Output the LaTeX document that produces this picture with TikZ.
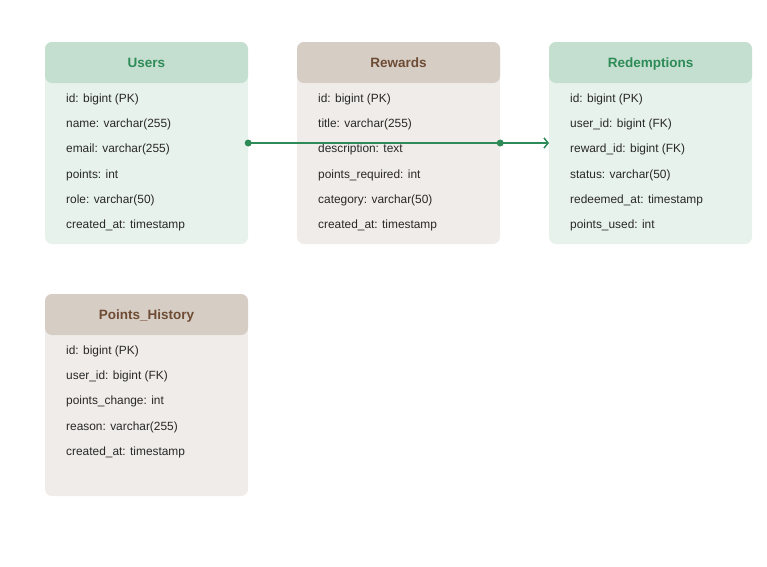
\documentclass[tikz,border=0pt]{standalone}
\usepackage{fontspec}
\setmainfont{Liberation Sans}
\usepackage{tikz}
\usetikzlibrary{arrows.meta, positioning}
\definecolor{grnhead}{RGB}{196,223,208}
\definecolor{grnbody}{RGB}{232,242,236}
\definecolor{grntext}{RGB}{46,139,87}
\definecolor{brnhead}{RGB}{214,205,197}
\definecolor{brnbody}{RGB}{240,236,233}
\definecolor{brntext}{RGB}{110,76,52}
\definecolor{fldtext}{RGB}{40,40,40}

\begin{document}
\begin{tikzpicture}[
  x=1pt, y=1pt,
  tbl/.style={rounded corners=7pt, minimum width=203pt, minimum height=202pt, inner sep=0pt},
  hdr/.style={rounded corners=7pt, minimum width=203pt, minimum height=41pt, inner sep=0pt,
    anchor=north, text height=10pt, text depth=1pt, font=\fontsize{13.5}{15}\selectfont\bfseries},
  fld/.style={anchor=west, inner sep=0pt, text height=8.5pt, text depth=2.5pt,
    font=\fontsize{11.9}{13}\selectfont, text=fldtext},
  rel/.style={draw=grntext, line width=1.3pt, -{Straight Barb[length=4pt,width=10pt,line width=1.2pt]}},
  dot/.style={circle, fill=grntext, inner sep=0pt, minimum size=7pt}
]
\useasboundingbox (0,0) rectangle (767,-566);

% tables
\node[tbl, fill=grnbody] (users) at (146.5,-143) {};
\node[hdr, fill=grnhead, text=grntext] (usersh) at (users.north) {Users};
\node[tbl, fill=brnbody] (rewards) at (398.5,-143) {};
\node[hdr, fill=brnhead, text=brntext] (rewardsh) at (rewards.north) {Rewards};
\node[tbl, fill=grnbody] (redem) at (650.5,-143) {};
\node[hdr, fill=grnhead, text=grntext] (redemh) at (redem.north) {Redemptions};
\node[tbl, fill=brnbody] (hist) at (146.5,-395) {};
\node[hdr, fill=brnhead, text=brntext] (histh) at (hist.north) {Points\_History};

% fields
\foreach \f [count=\i] in {id: bigint (PK), name: varchar(255), email: varchar(255),
    points: int, role: varchar(50), created\_at: timestamp}
  \node[fld] (users-f\i) at (66,-99.5-25.2*\i+25.2) {\f};
\foreach \f [count=\i] in {id: bigint (PK), title: varchar(255), description: text,
    points\_required: int, category: varchar(50), created\_at: timestamp}
  \node[fld] (rewards-f\i) at (318,-99.5-25.2*\i+25.2) {\f};
\foreach \f [count=\i] in {id: bigint (PK), user\_id: bigint (FK), reward\_id: bigint (FK),
    status: varchar(50), redeemed\_at: timestamp, points\_used: int}
  \node[fld] (redem-f\i) at (570,-99.5-25.2*\i+25.2) {\f};
\foreach \f [count=\i] in {id: bigint (PK), user\_id: bigint (FK), points\_change: int,
    reason: varchar(255), created\_at: timestamp}
  \node[fld] (hist-f\i) at (66,-351.5-25.2*\i+25.2) {\f};

% relations
\draw[rel] (users.east) -- (redem.west);
\draw[rel] (rewards.east) -- (redem.west);
\node[dot] (d1) at (users.east) {};
\node[dot] (d2) at (rewards.east) {};

\end{tikzpicture}
\end{document}
